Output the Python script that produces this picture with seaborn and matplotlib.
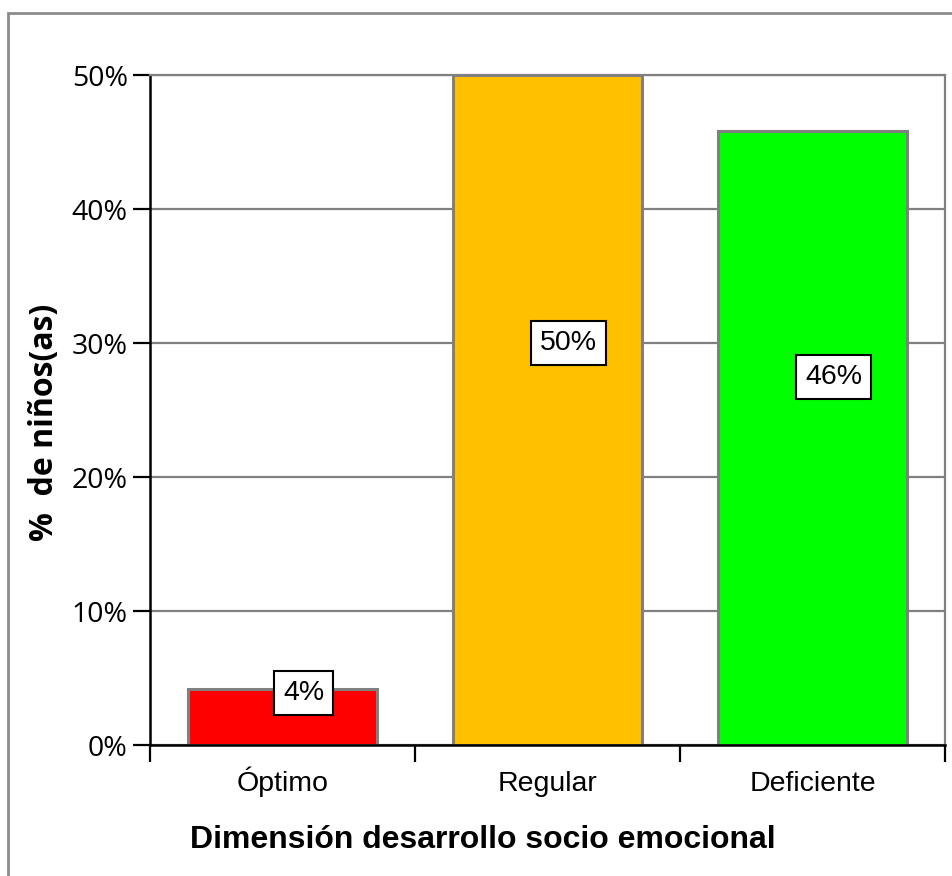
import matplotlib
matplotlib.use("Agg")
import matplotlib.pyplot as plt
import matplotlib.patches as mpatches
from matplotlib.ticker import FuncFormatter, MultipleLocator
import seaborn as sns
import pandas as pd
import numpy as np

# datos
categorias = ["Óptimo", "Regular", "Deficiente"]
porcentajes = [4.2, 50.0, 45.8]
etiquetas = ["4%", "50%", "46%"]
colores = ["#FF0000", "#FFC000", "#00FF00"]

df = pd.DataFrame({"categoria": categorias, "pct": porcentajes})

sns.set_theme(style="white")
plt.rcParams["font.family"] = ["Liberation Sans", "DejaVu Sans"]
plt.rcParams["text.color"] = "black"
plt.rcParams["xtick.color"] = "black"
plt.rcParams["ytick.color"] = "black"
plt.rcParams["axes.labelcolor"] = "black"

W, H = 953, 876
fig = plt.figure(figsize=(W / 100, H / 100), dpi=100)
ax = fig.add_axes([150 / W, 1 - 745 / H, 795 / W, 670 / H])

# marco de la figura
fig.patches.append(mpatches.Rectangle((8 / W, -0.1), 1.2, 1 - 13 / H + 0.1,
                                      transform=fig.transFigure, fill=False,
                                      edgecolor="#8c8c8c", linewidth=2.0))

sns.barplot(data=df, x="categoria", y="pct", hue="categoria",
            palette=colores, legend=False, width=0.713,
            edgecolor="#808080", linewidth=2.2, saturation=1, ax=ax)

ax.set_ylim(0, 50)
ax.set_xlim(-0.5, 2.5)
ax.yaxis.set_major_locator(MultipleLocator(10))
ax.yaxis.set_major_formatter(FuncFormatter(lambda v, p: f"{v:.0f}%"))
ax.grid(axis="y", color="#808080", linewidth=1.6)
ax.set_axisbelow(True)

for s in ["top", "right"]:
    ax.spines[s].set_color("#808080")
    ax.spines[s].set_linewidth(1.6)
for s in ["left", "bottom"]:
    ax.spines[s].set_color("black")
    ax.spines[s].set_linewidth(1.8)

# ticks: y hacia fuera, x en los limites de categoria
ax.tick_params(axis="y", left=True, direction="out", length=12, width=1.6,
               color="black", pad=4)
for lab in ax.get_yticklabels():
    lab.set_family(["Open Sans", "DejaVu Sans"])
    lab.set_fontsize(20.5)
ax.set_xticks(range(len(categorias)))
ax.set_xticklabels(categorias, fontsize=20.5, va="baseline")
ax.tick_params(axis="x", bottom=False, length=0, pad=33)
ax.set_xticks([-0.5, 0.5, 1.5, 2.5], minor=True)
ax.tick_params(axis="x", which="minor", bottom=True, direction="out",
               length=12, width=1.6, color="black")

ax.set_xlabel("Dimensión desarrollo socio emocional", fontsize=23,
              fontweight="bold", va="baseline")
ax.xaxis.set_label_coords((483 - 150) / 795, -(848 - 745) / 670)
ax.set_ylabel("%  de niños(as)", fontsize=23, fontweight="bold",
              family=["Open Sans", "DejaVu Sans"], va="center")
ax.yaxis.set_label_coords((45 - 150) / 795, (745 - 422) / 670)

# etiquetas de datos
for i, (v, t) in enumerate(zip(porcentajes, etiquetas)):
    y = 0.6 * v if v > 10 else v - 0.3
    ax.text(i + 0.08, y, t, ha="center", va="center", fontsize=20.5,
            bbox=dict(boxstyle="square,pad=0.32", facecolor="white",
                      edgecolor="black", linewidth=1.5))

fig.savefig("out.png", dpi=100, facecolor="white")
